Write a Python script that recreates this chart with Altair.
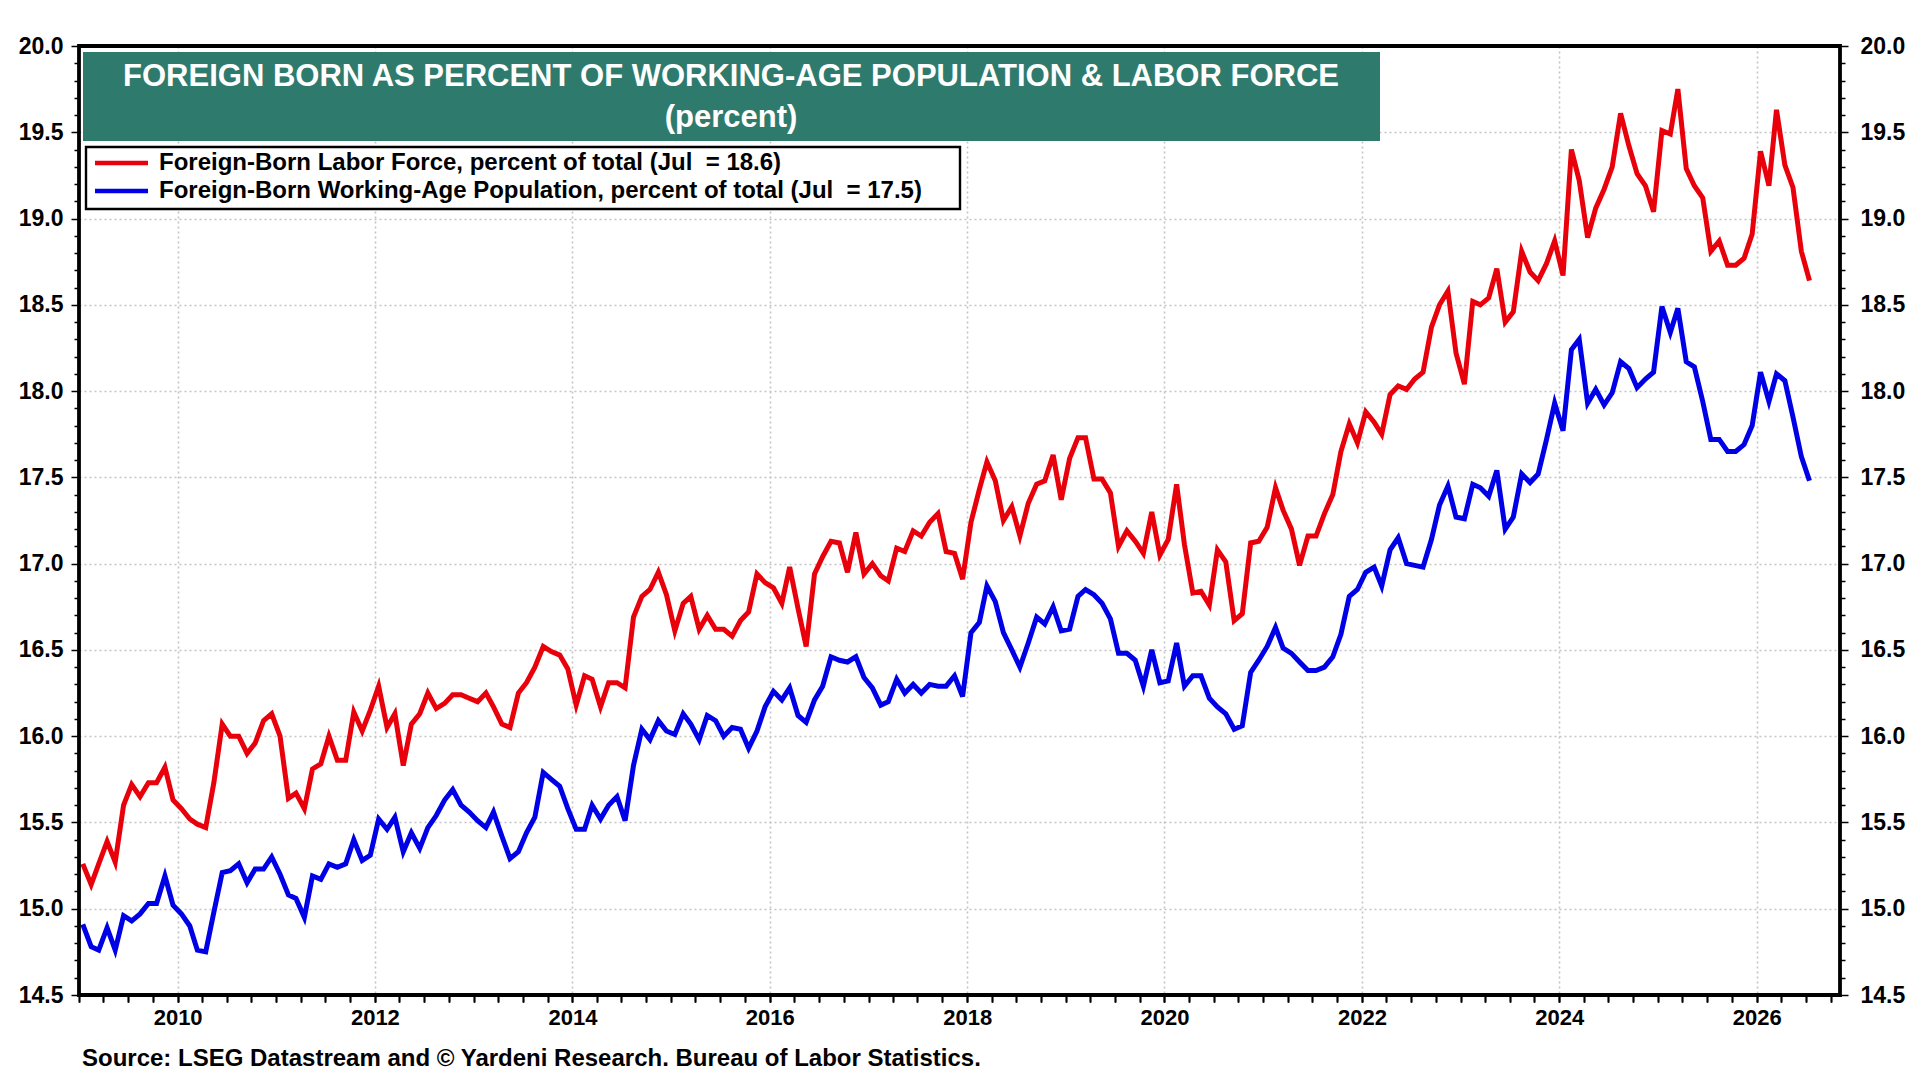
import altair as alt
import pandas as pd

# ---------------- data ----------------
labor_force = [
    15.26, 15.14, 15.26, 15.39, 15.27, 15.60, 15.72, 15.65, 15.73, 15.73, 15.82, 15.63,
    15.58, 15.52, 15.49, 15.47, 15.73, 16.07, 16.00, 16.00, 15.90, 15.96, 16.09, 16.13,
    16.00, 15.64, 15.67, 15.58, 15.81, 15.84, 16.00, 15.86, 15.86, 16.14, 16.03, 16.15,
    16.29, 16.05, 16.13, 15.83, 16.07, 16.13, 16.25, 16.16, 16.19, 16.24, 16.24, 16.22,
    16.20, 16.25, 16.17, 16.07, 16.05, 16.25, 16.31, 16.40, 16.52, 16.49, 16.47, 16.39,
    16.18, 16.35, 16.33, 16.17, 16.31, 16.31, 16.28, 16.69, 16.81, 16.85, 16.95, 16.82,
    16.61, 16.77, 16.81, 16.62, 16.70, 16.62, 16.62, 16.58, 16.67, 16.72, 16.94, 16.89,
    16.86, 16.77, 16.98, 16.74, 16.52, 16.94, 17.04, 17.13, 17.12, 16.95, 17.18, 16.94,
    17.00, 16.93, 16.90, 17.09, 17.07, 17.19, 17.16, 17.24, 17.29, 17.07, 17.06, 16.91,
    17.24, 17.43, 17.59, 17.48, 17.25, 17.33, 17.16, 17.35, 17.46, 17.48, 17.63, 17.37,
    17.61, 17.73, 17.73, 17.49, 17.49, 17.41, 17.10, 17.19, 17.13, 17.06, 17.30, 17.05,
    17.14, 17.46, 17.11, 16.83, 16.84, 16.76, 17.08, 17.01, 16.67, 16.71, 17.12, 17.13,
    17.21, 17.44, 17.31, 17.20, 16.99, 17.16, 17.16, 17.29, 17.40, 17.65, 17.81, 17.70,
    17.88, 17.82, 17.75, 17.98, 18.03, 18.01, 18.07, 18.11, 18.37, 18.50, 18.58, 18.22,
    18.04, 18.52, 18.50, 18.54, 18.71, 18.40, 18.46, 18.81, 18.69, 18.64, 18.74, 18.87,
    18.67, 19.40, 19.22, 18.89, 19.06, 19.17, 19.30, 19.61, 19.42, 19.26, 19.19, 19.04,
    19.51, 19.49, 19.75, 19.29, 19.19, 19.12, 18.81, 18.87, 18.73, 18.73, 18.77, 18.91,
    19.39, 19.19, 19.63, 19.31, 19.18, 18.81, 18.64,
]
working_age = [
    14.91, 14.78, 14.76, 14.89, 14.76, 14.96, 14.93, 14.97, 15.03, 15.03, 15.19, 15.02,
    14.97, 14.90, 14.76, 14.75, 14.98, 15.21, 15.22, 15.26, 15.15, 15.23, 15.23, 15.30,
    15.20, 15.08, 15.06, 14.95, 15.19, 15.17, 15.26, 15.24, 15.26, 15.40, 15.28, 15.31,
    15.52, 15.46, 15.53, 15.33, 15.44, 15.35, 15.47, 15.54, 15.63, 15.69, 15.60, 15.56,
    15.51, 15.47, 15.56, 15.42, 15.29, 15.33, 15.44, 15.53, 15.79, 15.75, 15.71, 15.58,
    15.46, 15.46, 15.60, 15.52, 15.60, 15.65, 15.51, 15.83, 16.04, 15.98, 16.09, 16.03,
    16.01, 16.13, 16.07, 15.98, 16.12, 16.09, 16.00, 16.05, 16.04, 15.93, 16.03, 16.17,
    16.26, 16.21, 16.28, 16.12, 16.08, 16.21, 16.29, 16.46, 16.44, 16.43, 16.46, 16.34,
    16.28, 16.18, 16.20, 16.33, 16.25, 16.30, 16.25, 16.30, 16.29, 16.29, 16.35, 16.23,
    16.60, 16.66, 16.87, 16.78, 16.60, 16.50, 16.40, 16.54, 16.69, 16.65, 16.75, 16.61,
    16.62, 16.81, 16.85, 16.82, 16.77, 16.68, 16.48, 16.48, 16.44, 16.29, 16.50, 16.31,
    16.32, 16.54, 16.29, 16.35, 16.35, 16.22, 16.17, 16.13, 16.04, 16.06, 16.37, 16.44,
    16.52, 16.63, 16.51, 16.48, 16.43, 16.38, 16.38, 16.40, 16.46, 16.59, 16.81, 16.85,
    16.95, 16.98, 16.87, 17.08, 17.15, 17.00, 16.99, 16.98, 17.14, 17.34, 17.45, 17.27,
    17.26, 17.46, 17.44, 17.39, 17.54, 17.20, 17.27, 17.52, 17.47, 17.52, 17.72, 17.93,
    17.77, 18.24, 18.30, 17.93, 18.01, 17.92, 17.99, 18.17, 18.13, 18.02, 18.07, 18.11,
    18.49, 18.34, 18.48, 18.17, 18.14, 17.94, 17.72, 17.72, 17.65, 17.65, 17.69, 17.80,
    18.11, 17.94, 18.10, 18.06, 17.85, 17.62, 17.48,
]
first_month = "2009-01-01"          # monthly data, Jan 2009 .. Jul 2026
series_names = ["Foreign-Born Labor Force", "Foreign-Born Working-Age Population"]
legend_labels = [
    "Foreign-Born Labor Force, percent of total (Jul\u00a0 = 18.6)",
    "Foreign-Born Working-Age Population, percent of total (Jul\u00a0 = 17.5)",
]
series_colors = ["#e8000b", "#0000e6"]
title_lines = ["FOREIGN BORN AS PERCENT OF WORKING-AGE POPULATION & LABOR FORCE", "(percent)"]
source_text = "Source: LSEG Datastream and \u00a9 Yardeni Research. Bureau of Labor Statistics."
y_tick_values = [14.5, 15.0, 15.5, 16.0, 16.5, 17.0, 17.5, 18.0, 18.5, 19.0, 19.5, 20.0]
year_tick_values = [2010, 2012, 2014, 2016, 2018, 2020, 2022, 2024, 2026]

# ---------------- layout / style ----------------
W, H = 1761, 949
FONT = "Liberation Sans"
TEAL = "#2e7b6e"
GRID = "#c4c4c4"

n = len(labor_force)
dates = (pd.date_range(first_month, periods=n, freq="MS") + pd.Timedelta(days=14)).strftime("%Y-%m-%dT00:00:00")
df = pd.DataFrame({
    "date": list(dates) * 2,
    "value": labor_force + working_age,
    "series": [series_names[0]] * n + [series_names[1]] * n,
})

minor_y = [round(14.5 + 0.1 * k, 1) for k in range(56) if k % 5 != 0]
quarter_ticks = [alt.DateTime(year=y, month=m, date=1) for y in range(2009, 2027) for m in (1, 4, 7, 10)]
year_ticks = [alt.DateTime(year=y, month=1, date=1) for y in year_tick_values]

xs = alt.Scale(domain=[alt.DateTime(year=2009, month=1, date=1), alt.DateTime(year=2026, month=11, date=5)])
ys = alt.Scale(domain=[14.5, 20.0], nice=False, zero=False)

lab = dict(labelFont=FONT, labelFontWeight="bold", labelColor="black")

x_major = alt.X("date:T", scale=xs, title=None, axis=alt.Axis(
    orient="bottom", values=year_ticks, format="%Y", grid=True, gridColor=GRID, gridDash=[2, 3],
    gridWidth=1.6, tickSize=7, tickWidth=1.5, tickColor="black", domain=False,
    labelFontSize=22, labelPadding=5, labelAngle=0, **lab))
x_minor = alt.X("date:T", scale=xs, title=None, axis=alt.Axis(
    orient="bottom", values=quarter_ticks, labels=False, grid=False, tickSize=7, tickWidth=1.5,
    tickColor="black", domain=False))

y_left = alt.Y("value:Q", scale=ys, title=None, axis=alt.Axis(
    orient="left", values=y_tick_values, format=".1f", grid=True, gridColor=GRID, gridDash=[2, 3],
    gridWidth=1.6, tickSize=8, tickWidth=1.5, tickColor="black", domain=False,
    labelFontSize=23, labelPadding=8, **lab))
y_right = alt.Y("value:Q", scale=ys, title=None, axis=alt.Axis(
    orient="right", values=y_tick_values, format=".1f", grid=False, tickSize=8, tickWidth=1.5,
    tickColor="black", domain=False, labelFontSize=23, labelPadding=12, **lab))
y_minor_l = alt.Y("value:Q", scale=ys, title=None, axis=alt.Axis(
    orient="left", values=minor_y, labels=False, grid=False, tickSize=5, tickWidth=1.5,
    tickColor="black", domain=False))
y_minor_r = alt.Y("value:Q", scale=ys, title=None, axis=alt.Axis(
    orient="right", values=minor_y, labels=False, grid=False, tickSize=5, tickWidth=1.5,
    tickColor="black", domain=False))

color = alt.Color("series:N", scale=alt.Scale(domain=series_names, range=series_colors), legend=None)

base = alt.Chart(df)
lines = base.mark_line(strokeWidth=5, strokeJoin="miter").encode(x=x_major, y=y_left, color=color, detail="series:N")
ghost_r = base.mark_line(opacity=0).encode(x=x_minor, y=y_right, detail="series:N")
ghost_ml = base.mark_line(opacity=0).encode(x=x_minor, y=y_minor_l, detail="series:N")
ghost_mr = base.mark_line(opacity=0).encode(x=x_minor, y=y_minor_r, detail="series:N")

one = alt.Chart(pd.DataFrame({"k": [0]}))

# title banner
title_box = one.mark_rect(fill=TEAL).encode(
    x=alt.value(4), x2=alt.value(1301), y=alt.value(6), y2=alt.value(95))
title_1 = one.mark_text(font=FONT, fontWeight="bold", fontSize=31, color="white", align="center", baseline="middle").encode(
    x=alt.value(652), y=alt.value(31), text=alt.value(title_lines[0]))
title_2 = one.mark_text(font=FONT, fontWeight="bold", fontSize=31, color="white", align="center", baseline="middle").encode(
    x=alt.value(652), y=alt.value(72), text=alt.value(title_lines[1]))

# legend box
leg_box = one.mark_rect(fill="white", stroke="black", strokeWidth=2.4).encode(
    x=alt.value(7), x2=alt.value(881), y=alt.value(101), y2=alt.value(163))
leg_items = []
for k, (lbl, col) in enumerate(zip(legend_labels, series_colors)):
    yy = 117 + 28 * k
    leg_items.append(one.mark_rule(color=col, strokeWidth=4.5).encode(
        x=alt.value(16), x2=alt.value(69), y=alt.value(yy)))
    leg_items.append(one.mark_text(font=FONT, fontWeight="bold", fontSize=24, color="black", align="left", baseline="middle").encode(
        x=alt.value(80), y=alt.value(yy), text=alt.value(lbl)))

source = one.mark_text(font=FONT, fontWeight="bold", fontSize=24, color="black", align="left", baseline="middle").encode(
    x=alt.value(3), y=alt.value(1013), text=alt.value(source_text))

frame = one.mark_rect(filled=False, stroke="black", strokeWidth=3.8).encode(
    x=alt.value(0), x2=alt.value(W), y=alt.value(0), y2=alt.value(H))

chart = alt.layer(
    lines, ghost_r, ghost_ml, ghost_mr,
    title_box, title_1, title_2, leg_box, *leg_items, source, frame,
).resolve_axis(x="independent", y="independent").properties(
    width=W, height=H,
    autosize=alt.AutoSizeParams(type="none"),
    padding={"left": 71, "top": 38, "right": 72, "bottom": 85},
    background="white",
).configure_view(strokeWidth=0)

chart.save("out.html", embed_options={"renderer": "svg", "actions": False})
